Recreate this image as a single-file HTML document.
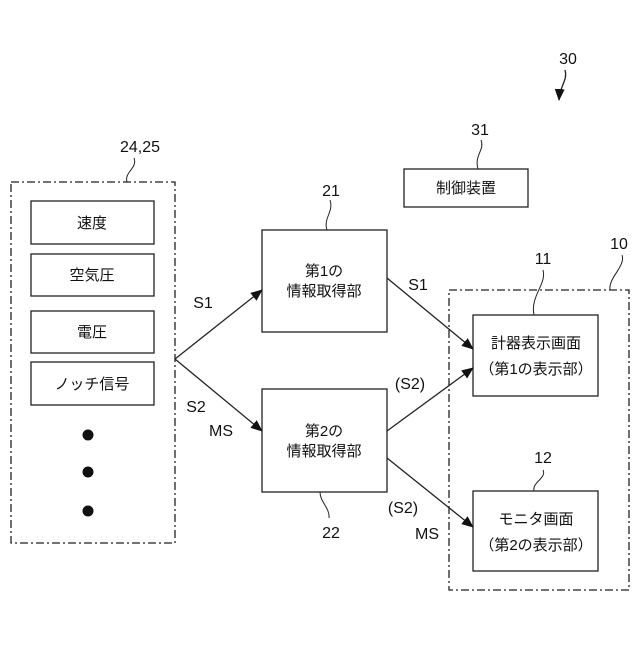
<!DOCTYPE html>
<html><head><meta charset="utf-8"><style>
html,body{margin:0;padding:0;background:#fff}
svg text{font-family:"Liberation Sans","Noto Sans CJK JP",sans-serif;fill:#111}
</style></head><body>
<svg width="640" height="640" viewBox="0 0 640 640" xmlns="http://www.w3.org/2000/svg">
<defs><marker id="a" markerWidth="12" markerHeight="10" refX="11" refY="5" orient="auto" markerUnits="userSpaceOnUse"><path d="M0,0 L12,5 L0,10 Z" fill="#111"/></marker></defs>
<g fill="none" stroke="#222" stroke-width="1.3">
<rect x="11" y="182" width="164" height="361" stroke-dasharray="8,3,2,3"/>
<rect x="449" y="290" width="180" height="300" stroke-dasharray="8,3,2,3"/>
<rect x="31" y="201" width="123" height="43"/>
<rect x="31" y="254" width="123" height="42"/>
<rect x="31" y="311" width="123" height="42"/>
<rect x="31" y="362" width="123" height="43"/>
<rect x="262" y="230" width="125" height="102"/>
<rect x="262" y="389" width="125" height="103"/>
<rect x="404" y="169" width="124" height="38"/>
<rect x="473" y="315" width="125" height="81"/>
<rect x="473" y="491" width="125" height="80"/>
<path d="M175,359 L262,290" marker-end="url(#a)"/>
<path d="M175,359 L262,431" marker-end="url(#a)"/>
<path d="M387,278 L473,349" marker-end="url(#a)"/>
<path d="M387,431 L473,368" marker-end="url(#a)"/>
<path d="M387,458 L473,527" marker-end="url(#a)"/>
<path d="M565,70 C568,80 560,85 559,100" marker-end="url(#a)"/>
<path d="M481,140 C485,150 474,155 478,169" stroke-width="1"/>
<path d="M330,200 C334,212 323,218 327,230" stroke-width="1"/>
<path d="M320,492 C320,502 330,508 329,518" stroke-width="1"/>
<path d="M134,158 C138,168 124,172 127,182" stroke-width="1"/>
<path d="M543,270 C547,284 530,296 534,315" stroke-width="1"/>
<path d="M622,255 C626,266 608,278 610,290" stroke-width="1"/>
<path d="M543,470 C547,478 532,482 534,491" stroke-width="1"/>
</g>
<g fill="#111"><circle cx="88" cy="435" r="5.5"/><circle cx="88" cy="472" r="5.5"/><circle cx="88" cy="511" r="5.5"/></g>
<g font-size="15" text-anchor="middle">
<text x="92" y="228">速度</text>
<text x="92" y="280">空気圧</text>
<text x="92" y="337">電圧</text>
<text x="92" y="389">ノッチ信号</text>
<text x="324" y="276">第1の</text>
<text x="324" y="296">情報取得部</text>
<text x="324" y="436">第2の</text>
<text x="324" y="456">情報取得部</text>
<text x="466" y="193">制御装置</text>
<text x="536" y="348">計器表示画面</text>
<text x="536" y="374">（第1の表示部）</text>
<text x="536" y="524">モニタ画面</text>
<text x="536" y="550">（第2の表示部）</text>
</g>
<g font-size="16" text-anchor="middle">
<text x="203" y="308">S1</text>
<text x="196" y="412">S2</text>
<text x="221" y="436">MS</text>
<text x="418" y="290">S1</text>
<text x="410" y="389">(S2)</text>
<text x="403" y="513">(S2)</text>
<text x="427" y="539">MS</text>
<text x="568" y="64">30</text>
<text x="480" y="135">31</text>
<text x="331" y="196">21</text>
<text x="331" y="538">22</text>
<text x="140" y="152">24,25</text>
<text x="543" y="264">11</text>
<text x="619" y="249">10</text>
<text x="543" y="463">12</text>
</g>
</svg>
</body></html>
